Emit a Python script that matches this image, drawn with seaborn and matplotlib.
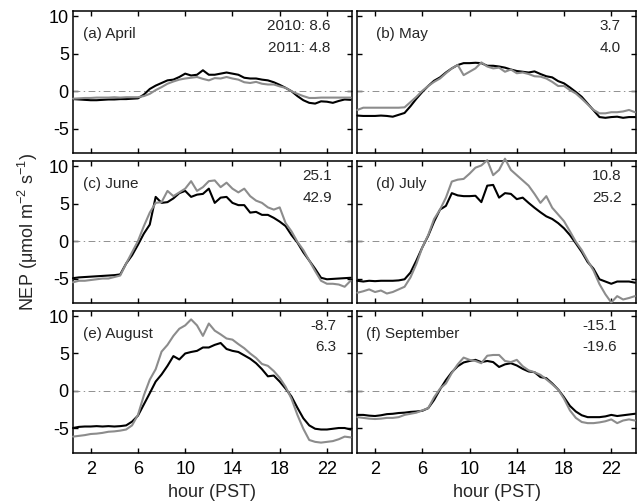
import numpy as np
import pandas as pd
import matplotlib
matplotlib.use("Agg")
import matplotlib.pyplot as plt
import seaborn as sns

# Half-hourly diurnal NEP composites (umol m-2 s-1), 0.5 ... 24.0 h PST
hours = np.arange(1, 49) * 0.5

apr_2010 = [-1.05, -1.1, -1.15, -1.2, -1.2, -1.15, -1.1, -1.1, -1.05, -1.05, -1.0, -0.95,
            -0.45, 0.3, 0.75, 1.1, 1.45, 1.55, 1.9, 2.35, 2.1, 2.2, 2.8, 2.2,
            2.2, 2.35, 2.5, 2.35, 2.2, 1.8, 1.7, 1.7, 1.55, 1.45, 1.2, 0.85,
            0.45, 0.0, -0.65, -1.2, -1.55, -1.65, -1.35, -1.4, -1.55, -1.3, -1.1, -1.15]
apr_2011 = [-1.0, -0.95, -0.9, -0.9, -0.85, -0.85, -0.85, -0.8, -0.85, -0.8, -0.8, -0.8,
            -0.65, -0.35, 0.15, 0.55, 1.0, 1.3, 1.55, 1.7, 1.8, 1.9, 1.65, 1.45,
            1.75, 1.7, 1.9, 1.7, 1.55, 1.2, 1.1, 1.25, 1.0, 0.9, 0.9, 0.65,
            0.45, 0.0, -0.35, -0.65, -0.9, -0.9, -0.85, -0.85, -0.85, -0.85, -0.85, -0.85]

may_2010 = [-3.25, -3.3, -3.3, -3.3, -3.25, -3.3, -3.4, -3.15,
            -2.9, -2.0, -1.0, -0.1, 0.7, 1.4, 1.85, 2.5, 3.05, 3.5,
            3.75, 3.75, 3.8, 3.75, 3.4, 3.4, 3.3, 3.15, 2.9, 2.7,
            2.6, 2.5, 2.65, 2.3, 2.0, 1.85, 1.35, 1.05, 0.5, -0.1,
            -0.75, -1.65, -2.55, -3.45, -3.55, -3.45, -3.4, -3.55, -3.45, -3.45]
may_2011 = [-2.5, -2.2, -2.2, -2.2, -2.2, -2.2, -2.2, -2.2, -2.15,
            -1.45, -0.75, 0.05, 0.7, 1.25, 1.7, 2.4, 3.05, 3.5, 2.15,
            2.6, 3.05, 3.85, 3.3, 3.05, 3.15, 2.6, 2.9, 2.4, 2.5,
            2.3, 2.0, 1.95, 1.7, 1.25, 0.7, 0.7, 0.15, -0.3, -1.0,
            -1.75, -2.5, -2.95, -2.95, -2.8, -2.8, -2.7, -2.5, -2.8]

jun_2010 = [-4.95, -4.85, -4.8, -4.75, -4.7, -4.65, -4.6, -4.55, -4.45,
            -3.0, -1.9, -0.5, 1.0, 2.2, 5.9, 5.1, 5.2, 5.7, 6.4,
            6.7, 5.9, 6.2, 6.3, 7.0, 5.1, 5.8, 5.9, 5.1, 4.8,
            4.8, 3.8, 3.9, 3.5, 3.5, 3.1, 2.6, 2.0, 0.8, -0.2,
            -1.5, -2.6, -3.7, -4.9, -5.1, -5.05, -5.0, -4.95, -4.9]
jun_2011 = [-5.5, -5.3, -5.3, -5.2, -5.1, -5.0, -5.0, -4.8, -4.6,
            -3.0, -1.5, 0.0, 2.0, 3.8, 5.1, 5.2, 6.7, 6.0, 6.5,
            7.0, 8.0, 6.7, 7.2, 8.0, 8.1, 7.2, 7.8, 7.0, 6.5,
            7.0, 6.0, 5.4, 5.1, 4.5, 4.2, 4.5, 2.4, 1.3, -0.1,
            -1.2, -2.6, -4.0, -5.3, -5.7, -5.7, -5.8, -6.1, -5.3]

jul_2010 = [-5.3, -5.4, -5.3, -5.35, -5.3, -5.3, -5.3, -5.25,
            -5.1, -4.2, -2.6, -0.85, 0.7, 2.6, 4.2, 4.7, 6.4, 6.1,
            6.0, 6.0, 6.05, 5.2, 7.4, 7.5, 5.8, 6.4, 6.3, 5.6,
            5.8, 5.1, 4.45, 3.85, 3.3, 2.95, 2.4, 1.7, 0.8, -0.3,
            -1.45, -2.8, -3.7, -5.1, -5.4, -5.7, -5.4, -5.4, -5.4, -5.55]
jul_2011 = [-6.9, -6.7, -6.45, -6.8, -6.6, -7.0, -6.8, -6.45, -6.1,
            -4.85, -3.05, -0.85, 0.8, 2.95, 4.2, 5.8, 7.95, 8.2, 8.3,
            9.0, 9.8, 10.1, 10.8, 8.8, 9.5, 11.0, 9.5, 8.8, 8.1,
            7.4, 6.3, 5.1, 6.0, 4.45, 3.55, 2.65, 1.3, -0.1, -1.2,
            -2.6, -3.95, -5.75, -7.1, -8.2, -7.35, -7.8, -7.6, -7.35]

aug_2010 = [-4.95, -4.8, -4.75, -4.75, -4.7, -4.75, -4.7, -4.75, -4.7,
            -4.6, -4.1, -3.3, -1.8, -0.3, 1.25, 2.2, 3.35, 4.65, 4.2,
            5.0, 5.2, 5.35, 5.8, 5.8, 6.15, 6.4, 5.6, 5.35, 5.2,
            4.75, 4.3, 3.7, 2.9, 1.95, 2.05, 1.25, 0.3, -0.75, -2.25,
            -3.65, -4.6, -5.05, -5.15, -5.15, -5.05, -4.95, -4.95, -5.15]
aug_2011 = [-6.1, -6.0, -5.9, -5.75, -5.7, -5.6, -5.45, -5.4, -5.3,
            -5.15, -4.6, -3.2, -0.6, 1.5, 2.9, 5.25, 6.15, 7.35, 8.3,
            8.75, 9.55, 8.75, 7.35, 9.0, 8.05, 7.55, 7.0, 6.85, 6.25,
            5.7, 5.0, 4.4, 3.6, 3.35, 2.65, 1.75, 0.55, -1.05, -3.2,
            -5.05, -6.55, -6.8, -6.9, -6.8, -6.7, -6.45, -6.1, -6.2]

sep_2010 = [-3.2, -3.2, -3.3, -3.35, -3.25, -3.1, -3.05, -2.95, -2.9, -2.8, -2.75, -2.65,
            -2.3, -1.2, 0.2, 1.45, 2.5, 3.3, 3.8, 4.0, 4.15, 3.85, 4.0, 3.85,
            3.2, 3.55, 3.7, 3.4, 2.95, 2.6, 2.5, 1.85, 1.7, 1.0, 0.2, -0.85,
            -2.0, -2.75, -3.25, -3.5, -3.5, -3.5, -3.4, -3.2, -3.35, -3.25, -3.15, -3.05]
sep_2011 = [-3.5, -3.6, -3.7, -3.75, -3.7, -3.6, -3.6, -3.5, -3.2, -3.05, -2.9, -2.6,
            -2.3, -0.85, 0.3, 1.0, 2.4, 3.55, 4.45, 4.15, 4.0, 3.7, 4.7, 4.8,
            4.8, 4.0, 3.85, 4.15, 3.3, 2.75, 2.5, 2.15, 1.55, 0.9, 0.2, -1.05,
            -2.6, -3.6, -4.15, -4.3, -4.3, -4.2, -4.05, -3.8, -4.3, -3.95, -3.8, -3.95]

months = ["April", "May", "June", "July", "August", "September"]
panel_tags = ["(a)", "(b)", "(c)", "(d)", "(e)", "(f)"]
series_2010 = [apr_2010, may_2010, jun_2010, jul_2010, aug_2010, sep_2010]
series_2011 = [apr_2011, may_2011, jun_2011, jul_2011, aug_2011, sep_2011]
totals_2010 = ["2010: 8.6", "3.7", "25.1", "10.8", "-8.7", "-15.1"]
totals_2011 = ["2011: 4.8", "4.0", "42.9", "25.2", "6.3", "-19.6"]

x_ticks = [2, 6, 10, 14, 18, 22]
y_ticks = [-5, 0, 5, 10]

frames = []
for m, a, b in zip(months, series_2010, series_2011):
    frames.append(pd.DataFrame({"hour": hours, "NEP": a, "year": "2010", "month": m}))
    frames.append(pd.DataFrame({"hour": hours, "NEP": b, "year": "2011", "month": m}))
df = pd.concat(frames, ignore_index=True)

sns.set_style("ticks")
plt.rcParams["font.family"] = ["Liberation Sans", "DejaVu Sans"]
plt.rcParams["mathtext.fontset"] = "custom"
plt.rcParams["mathtext.rm"] = "Liberation Sans"
plt.rcParams["mathtext.it"] = "Liberation Sans:italic"
plt.rcParams["axes.unicode_minus"] = False

fig, axes = plt.subplots(3, 2, figsize=(6.38, 5.04), dpi=100, sharex=True, sharey=True)
fig.subplots_adjust(left=0.1144, right=0.997, top=0.978, bottom=0.101,
                    wspace=0.020, hspace=0.053)

palette = {"2010": "black", "2011": "#8c8c8c"}
tag_x = [0.035, 0.068, 0.035, 0.068, 0.035, 0.031]
tot_x = [0.925, 0.945, 0.930, 0.949, 0.944, 0.931]

for i, ax in enumerate(axes.flat):
    sub = df[df["month"] == months[i]]
    sns.lineplot(data=sub, x="hour", y="NEP", hue="year", palette=palette,
                 hue_order=["2010", "2011"], legend=False, linewidth=1.5,
                 ax=ax, clip_on=False, zorder=3)
    ax.axhline(0, color="#909090", linewidth=0.7, linestyle=(0, (7, 3.5, 1.5, 3.5)),
               zorder=1)
    ax.set_xlim(0.5, 24.1)
    ax.set_ylim(-8.3, 10.7)
    ax.set_xticks(x_ticks)
    ax.set_yticks(y_ticks)
    ax.tick_params(direction="in", length=3.5, width=1.0, top=True, right=True,
                   labelsize=13, colors="black")
    ax.tick_params(axis="x", pad=6)
    ax.tick_params(axis="y", pad=3)
    for sp in ax.spines.values():
        sp.set_linewidth(1.1)
        sp.set_color("black")
    ax.set_xlabel("")
    ax.set_ylabel("")
    ax.text(tag_x[i], 0.838, f"{panel_tags[i]} {months[i]}", transform=ax.transAxes,
            ha="left", va="center", fontsize=11)
    ax.text(tot_x[i], 0.895, totals_2010[i], transform=ax.transAxes,
            ha="right", va="center", fontsize=11)
    ax.text(tot_x[i], 0.743, totals_2011[i], transform=ax.transAxes,
            ha="right", va="center", fontsize=11)

for ax in axes[2]:
    ax.set_xlabel("hour (PST)", fontsize=13, labelpad=4)

fig.text(28 / 638, 1 - 232 / 504, "NEP (μmol m$^{-2}$ s$^{-1}$)",
         rotation=90, ha="center", va="center", fontsize=13)

fig.savefig("out.png", dpi=100)
